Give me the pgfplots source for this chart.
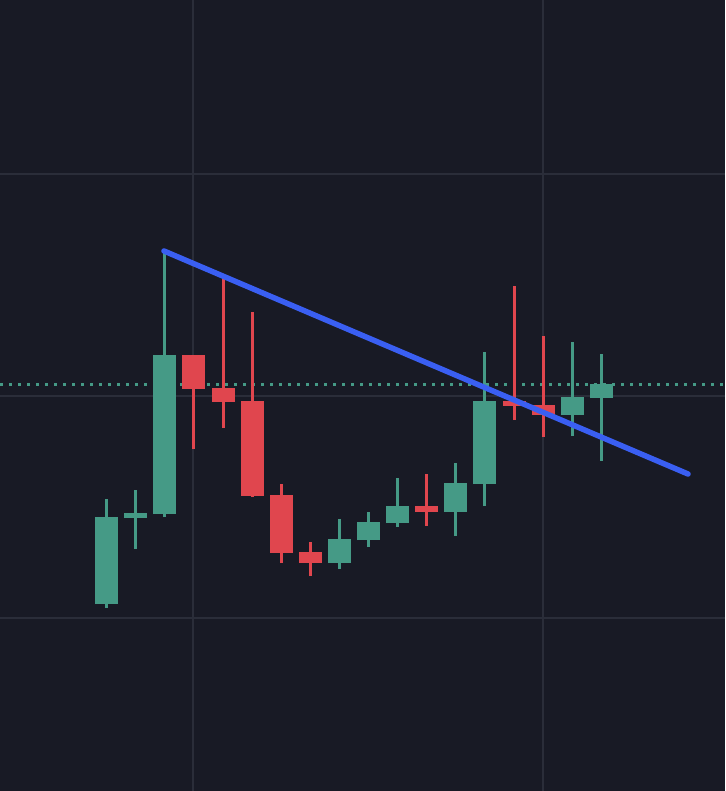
\documentclass[border=0pt]{standalone}
\usepackage{pgfplots}
\pgfplotsset{compat=1.18}
\definecolor{bg}{HTML}{181A25}
\definecolor{gridc}{HTML}{2A2D39}
\definecolor{up}{HTML}{459A86}
\definecolor{down}{HTML}{E0464E}
\definecolor{trend}{HTML}{3A5FF2}
\begin{document}
\begin{tikzpicture}
\begin{axis}[
  width=725pt, height=791pt, scale only axis,
  xmin=0, xmax=725, ymin=0, ymax=791, y dir=reverse,
  hide axis, clip=true,
]
% background
\addplot[fill=bg, draw=none] coordinates {(0,0) (725,0) (725,791) (0,791)} -- cycle;
% grid
\addplot[gridc, line width=2.2pt] coordinates {(193,0) (193,791)};
\addplot[gridc, line width=2.2pt] coordinates {(543,0) (543,791)};
\addplot[gridc, line width=2.2pt] coordinates {(0,174) (725,174)};
\addplot[gridc, line width=2.2pt] coordinates {(0,396) (725,396)};
\addplot[gridc, line width=2.2pt] coordinates {(0,618) (725,618)};
% price line
\addplot[up, line width=3pt, dash pattern=on 3pt off 6pt] coordinates {(0,384) (725,384)};
% green wicks (low, high)
\addplot[up, line width=3pt, unbounded coords=jump] coordinates {
 (106,608) (106,499) (106,nan)
 (135,549) (135,490) (135,nan)
 (164,517) (164,250) (164,nan)
 (339,569) (339,519) (339,nan)
 (368,547) (368,512) (368,nan)
 (397,527) (397,478) (397,nan)
 (455,536) (455,463) (455,nan)
 (484,506) (484,352) (484,nan)
 (572,436) (572,342) (572,nan)
 (601,461) (601,354)
};
% red wicks
\addplot[down, line width=3pt, unbounded coords=jump] coordinates {
 (193,449) (193,355) (193,nan)
 (223,428) (223,278) (223,nan)
 (252,497) (252,312) (252,nan)
 (281,563) (281,484) (281,nan)
 (310,576) (310,542) (310,nan)
 (426,526) (426,474) (426,nan)
 (514,420) (514,286) (514,nan)
 (543,437) (543,336)
};
% green bodies (open, close)
\addplot[up, line width=23pt, unbounded coords=jump] coordinates {
 (106,604) (106,517) (106,nan)
 (135,518) (135,513) (135,nan)
 (164,514) (164,355) (164,nan)
 (339,563) (339,539) (339,nan)
 (368,540) (368,522) (368,nan)
 (397,523) (397,506) (397,nan)
 (455,512) (455,483) (455,nan)
 (484,484) (484,401) (484,nan)
 (572,415) (572,397) (572,nan)
 (601,398) (601,384)
};
% red bodies (open, close)
\addplot[down, line width=23pt, unbounded coords=jump] coordinates {
 (193,355) (193,389) (193,nan)
 (223,388) (223,402) (223,nan)
 (252,401) (252,496) (252,nan)
 (281,495) (281,553) (281,nan)
 (310,552) (310,563) (310,nan)
 (426,506) (426,512) (426,nan)
 (514,401) (514,406) (514,nan)
 (543,405) (543,415)
};
% trend line
\addplot[trend, line width=5.5pt, line cap=round] coordinates {(164,251) (688,474)};
\end{axis}
\end{tikzpicture}
\end{document}
